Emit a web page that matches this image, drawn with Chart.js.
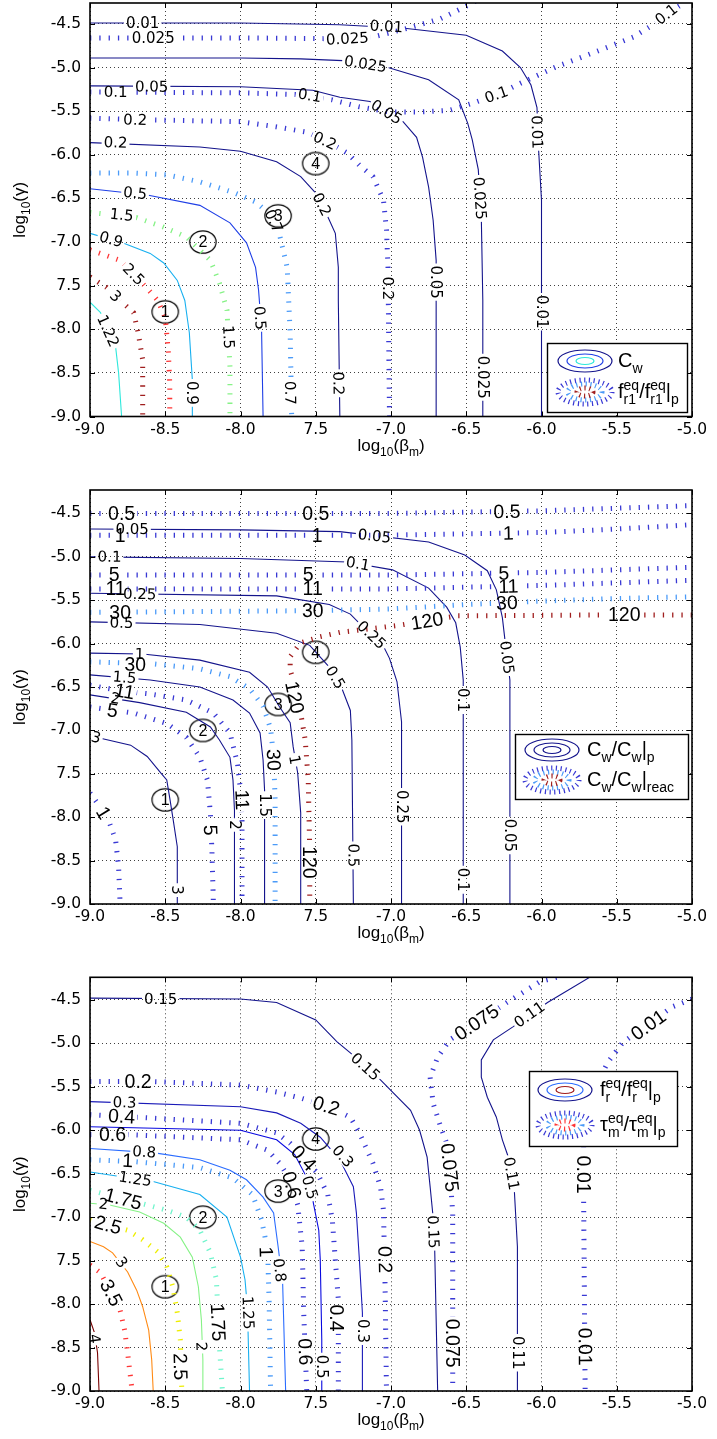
<!DOCTYPE html>
<html>
<head>
<meta charset="utf-8">
<script src="https://cdn.jsdelivr.net/npm/chart.js@4/dist/chart.umd.min.js"></script>
<style>
  body { margin: 0; background: #fff; }
  #wrap { position: relative; width: 717px; height: 1439px; }
  canvas { position: absolute; left: 0; }
</style>
</head>
<body>
<div id="wrap">
  <canvas id="c1" width="717" height="468" style="top:0px"></canvas>
  <canvas id="c2" width="717" height="488" style="top:468px"></canvas>
  <canvas id="c3" width="717" height="483" style="top:956px"></canvas>
</div>
<script>
// ---- axes (shared by the three panels)
const xTickVals = [-9, -8.5, -8, -7.5, -7, -6.5, -6, -5.5, -5];
const xTickText = ['-9.0', '-8.5', '-8.0', '7.5', '-7.0', '-6.5', '-6.0', '-5.5', '-5.0'];
const yTickVals = [-4.5, -5, -5.5, -6, -6.5, -7, -7.5, -8, -8.5, -9];
const yTickText = ['-4.5', '-5.0', '-5.5', '-6.0', '-6.5', '-7.0', '7.5', '-8.0', '-8.5', '-9.0'];
const yTops = [-4.26, -4.23, -4.24];

// circled points 1..4 (same place in every panel)
const markX = [-8.5, -8.25, -7.75, -7.5];
const markY = [-7.8, -7.0, -6.7, -6.1];
const markText = ['1', '2', '3', '4'];

// ---- panel 1 : C_w (solid) and f_r1/f_r1|p (dotted)
const p1Cw001 = [[-9,-4.49],[-8,-4.49],[-7.34,-4.51],[-6.91,-4.55],[-6.5,-4.63],[-6.26,-4.81],[-6.14,-5.0],[-6.07,-5.2],[-6.03,-5.46],[-6.02,-5.92],[-6.0,-6.52],[-6.0,-9.0]];
const p1Cw001Lab = [[-8.65,-4.49],[-7.03,-4.53],[-6.03,-5.74],[-6.0,-7.8]];
const p1Cw0025 = [[-9,-4.89],[-8,-4.89],[-7.6,-4.9],[-7.32,-4.92],[-7.02,-5.0],[-6.75,-5.14],[-6.55,-5.37],[-6.49,-5.64],[-6.46,-5.83],[-6.42,-6.17],[-6.4,-6.71],[-6.39,-7.67],[-6.39,-9.0]];
const p1Cw0025Lab = [[-7.17,-4.96],[-6.41,-6.5],[-6.39,-8.55]];
const p1Cw005 = [[-9,-5.21],[-8,-5.22],[-7.52,-5.26],[-7.34,-5.34],[-7.14,-5.39],[-6.92,-5.62],[-6.83,-5.8],[-6.79,-6.03],[-6.75,-6.37],[-6.72,-6.75],[-6.7,-7.21],[-6.7,-9.0]];
const p1Cw005Lab = [[-8.59,-5.22],[-7.03,-5.51],[-6.7,-7.46]];
const p1Cw02 = [[-9,-5.86],[-8.27,-5.91],[-8,-5.96],[-7.76,-6.08],[-7.6,-6.25],[-7.5,-6.44],[-7.42,-6.71],[-7.37,-6.9],[-7.35,-7.29],[-7.35,-7.67],[-7.34,-9.0]];
const p1Cw02Lab = [[-8.83,-5.86],[-7.46,-6.57],[-7.35,-8.62]];
const p1Cw05 = [[-9,-6.39],[-8.62,-6.46],[-8.27,-6.58],[-8.07,-6.78],[-7.96,-7.01],[-7.9,-7.29],[-7.88,-7.55],[-7.86,-8.01],[-7.85,-9.0]];
const p1Cw05Lab = [[-8.7,-6.44],[-7.87,-7.87]];
const p1Cw09 = [[-9,-6.9],[-8.78,-7.01],[-8.6,-7.13],[-8.51,-7.24],[-8.42,-7.44],[-8.37,-7.67],[-8.34,-8.04],[-8.32,-8.58],[-8.32,-9.0]];
const p1Cw09Lab = [[-8.86,-6.97],[-8.32,-8.73]];
const p1Cw122 = [[-9,-7.69],[-8.93,-7.81],[-8.88,-8.01],[-8.83,-8.2],[-8.81,-8.5],[-8.79,-9.0]];
const p1Cw122Lab = [[-8.88,-8.02]];

const p1Fr0025 = [[-9,-4.66],[-8,-4.66],[-7.34,-4.67],[-7.12,-4.65],[-6.89,-4.55],[-6.67,-4.44],[-6.48,-4.28],[-6.44,-4.24]];
const p1Fr0025Lab = [[-8.58,-4.66],[-7.29,-4.67]];
const p1Fr01 = [[-9,-5.28],[-8,-5.29],[-7.6,-5.31],[-7.39,-5.37],[-7.21,-5.45],[-7.01,-5.51],[-6.81,-5.51],[-6.61,-5.49],[-6.46,-5.41],[-6.28,-5.3],[-6.14,-5.18],[-5.9,-4.99],[-5.61,-4.8],[-5.39,-4.65],[-5.26,-4.51],[-5.15,-4.36],[-5.05,-4.26]];
const p1Fr01Lab = [[-8.83,-5.28],[-7.54,-5.32],[-6.3,-5.31],[-5.17,-4.39]];
const p1Fr02 = [[-9,-5.58],[-8.6,-5.6],[-8,-5.62],[-7.76,-5.68],[-7.56,-5.74],[-7.41,-5.86],[-7.29,-5.98],[-7.21,-6.12],[-7.12,-6.25],[-7.05,-6.52],[-7.03,-6.86],[-7.02,-7.29],[-7.01,-9.0]];
const p1Fr02Lab = [[-8.7,-5.6],[-7.44,-5.84],[-7.02,-7.53]];
const p1Fr07 = [[-9,-6.21],[-8.71,-6.21],[-8.49,-6.23],[-8.27,-6.31],[-8.05,-6.43],[-7.9,-6.54],[-7.8,-6.69],[-7.74,-6.92],[-7.69,-7.29],[-7.67,-8.04],[-7.66,-9.0]];
const p1Fr07Lab = [[-7.78,-6.76],[-7.67,-8.73]];
const p1Fr15 = [[-9,-6.66],[-8.69,-6.72],[-8.51,-6.83],[-8.36,-6.94],[-8.2,-7.21],[-8.14,-7.47],[-8.09,-7.78],[-8.07,-8.43],[-8.07,-9.0]];
const p1Fr15Lab = [[-8.79,-6.69],[-8.08,-8.09]];
const p1Fr25 = [[-9,-7.09],[-8.8,-7.21],[-8.62,-7.53],[-8.55,-7.67],[-8.5,-7.87],[-8.48,-8.24],[-8.47,-8.62],[-8.47,-9.0]];
const p1Fr25Lab = [[-8.71,-7.37]];
const p1Fr3 = [[-9,-7.4],[-8.89,-7.52],[-8.78,-7.7],[-8.71,-7.81],[-8.68,-8.04],[-8.65,-8.35],[-8.65,-9.0]];
const p1Fr3Lab = [[-8.83,-7.62]];

// ---- panel 2 : C_w/C_w|p (solid) and C_w/C_w|reac (dotted)
const p2Cw005 = [[-9,-4.68],[-8,-4.69],[-7.34,-4.71],[-6.75,-4.83],[-6.51,-4.98],[-6.36,-5.16],[-6.3,-5.38],[-6.26,-5.7],[-6.24,-6.0],[-6.21,-6.42],[-6.21,-9.0]];
const p2Cw005Lab = [[-8.72,-4.68],[-7.11,-4.76],[-6.23,-6.16],[-6.21,-8.21]];
const p2Cw01 = [[-9,-5.0],[-8,-5.02],[-7.29,-5.06],[-6.99,-5.15],[-6.75,-5.36],[-6.63,-5.58],[-6.57,-5.76],[-6.54,-6.04],[-6.52,-6.42],[-6.52,-9.0]];
const p2Cw01Lab = [[-8.87,-5.0],[-7.22,-5.08],[-6.52,-6.65],[-6.52,-8.72]];
const p2Cw025 = [[-9,-5.42],[-7.76,-5.45],[-7.41,-5.55],[-7.27,-5.66],[-7.19,-5.8],[-7.05,-6.03],[-7.01,-6.17],[-6.96,-6.44],[-6.93,-6.9],[-6.93,-9.0]];
const p2Cw025Lab = [[-8.67,-5.43],[-7.13,-5.9],[-6.93,-7.88]];
const p2Cw05 = [[-9,-5.75],[-8.27,-5.78],[-7.76,-5.88],[-7.54,-6.02],[-7.41,-6.27],[-7.33,-6.5],[-7.27,-6.77],[-7.26,-7.11],[-7.25,-9.0]];
const p2Cw05Lab = [[-8.79,-5.76],[-7.37,-6.39],[-7.25,-8.44]];
const p2Cw1 = [[-9,-6.11],[-8.65,-6.12],[-8.27,-6.19],[-7.94,-6.33],[-7.82,-6.5],[-7.74,-6.73],[-7.67,-6.91],[-7.65,-7.19],[-7.62,-7.49],[-7.6,-7.95],[-7.6,-9.0]];
const p2Cw1Lab = [[-8.67,-6.12],[-7.64,-7.34]];
const p2Cw15 = [[-9,-6.36],[-8.6,-6.42],[-8.27,-6.5],[-8.05,-6.65],[-7.94,-6.8],[-7.87,-7.03],[-7.85,-7.34],[-7.84,-7.69],[-7.84,-9.0]];
const p2Cw15Lab = [[-8.77,-6.39],[-7.84,-7.86]];
const p2Cw2 = [[-9,-6.59],[-8.67,-6.68],[-8.36,-6.79],[-8.2,-6.96],[-8.14,-7.11],[-8.07,-7.31],[-8.05,-7.57],[-8.04,-7.92],[-8.04,-9.0]];
const p2Cw2Lab = [[-8.83,-6.63],[-8.04,-8.09]];
const p2Cw3 = [[-9,-7.06],[-8.93,-7.09],[-8.73,-7.17],[-8.62,-7.3],[-8.53,-7.49],[-8.49,-7.57],[-8.47,-7.78],[-8.45,-8.0],[-8.42,-8.34],[-8.42,-9.0]];
const p2Cw3Lab = [[-8.96,-7.08],[-8.42,-8.84]];

const p2Cr05 = [[-9,-4.5],[-7,-4.5],[-6,-4.47],[-5.5,-4.44],[-5,-4.41]];
const p2Cr05Lab = [[-8.79,-4.5],[-7.5,-4.5],[-6.23,-4.48]];
const p2Cr1 = [[-9,-4.75],[-7,-4.75],[-6,-4.72],[-5.5,-4.68],[-5,-4.63]];
const p2Cr1Lab = [[-8.8,-4.75],[-7.49,-4.75],[-6.22,-4.73]];
const p2Cr5 = [[-9,-5.21],[-7,-5.21],[-6,-5.18],[-5.5,-5.15],[-5,-5.12]];
const p2Cr5Lab = [[-8.84,-5.21],[-7.55,-5.21],[-6.25,-5.19]];
const p2Cr11 = [[-9,-5.37],[-7,-5.37],[-6,-5.33],[-5.5,-5.3],[-5,-5.27]];
const p2Cr11Lab = [[-8.83,-5.37],[-7.52,-5.37],[-6.22,-5.34]];
const p2Cr30 = [[-9,-5.64],[-7.5,-5.62],[-7,-5.6],[-6.5,-5.55],[-6,-5.51],[-5.5,-5.48],[-5,-5.46]];
const p2Cr30Lab = [[-8.8,-5.64],[-7.52,-5.62],[-6.23,-5.53]];
const p2Cr120 = [[-5.0,-5.67],[-5.61,-5.67],[-6.56,-5.68],[-6.74,-5.73],[-6.95,-5.79],[-7.34,-5.87],[-7.47,-5.92],[-7.6,-5.99],[-7.67,-6.15],[-7.67,-6.3],[-7.63,-6.55],[-7.6,-6.8],[-7.57,-7.11],[-7.55,-7.57],[-7.54,-8.38],[-7.54,-9.0]];
const p2Cr120Lab = [[-5.45,-5.67],[-6.76,-5.74],[-7.64,-6.62],[-7.54,-8.52]];
const p2Cr30b = [[-9,-6.21],[-8.6,-6.23],[-8.27,-6.29],[-8.07,-6.38],[-7.94,-6.52],[-7.85,-6.72],[-7.8,-6.98],[-7.78,-7.3],[-7.77,-7.8],[-7.77,-9.0]];
const p2Cr30bLab = [[-8.7,-6.24],[-7.78,-7.34]];
const p2Cr11b = [[-9,-6.48],[-8.77,-6.55],[-8.6,-6.58],[-8.36,-6.65],[-8.18,-6.8],[-8.07,-7.03],[-8.02,-7.38],[-8.0,-7.69],[-7.99,-8.04],[-7.99,-9.0]];
const p2Cr11bLab = [[-8.77,-6.55],[-7.99,-7.8]];
const p2Cr5b = [[-9,-6.73],[-8.71,-6.8],[-8.49,-6.92],[-8.36,-7.08],[-8.27,-7.31],[-8.22,-7.57],[-8.2,-7.96],[-8.19,-8.38],[-8.18,-9.0]];
const p2Cr5bLab = [[-8.85,-6.77],[-8.2,-8.15]];
const p2Cr1b = [[-9,-7.72],[-8.95,-7.84],[-8.87,-8.07],[-8.83,-8.26],[-8.81,-8.57],[-8.8,-9.0]];
const p2Cr1bLab = [[-8.91,-7.95]];

// ---- panel 3 : f_r/f_r|p (solid) and tau_m/tau_m|p (dotted)
const p3Fr015 = [[-9,-4.48],[-8,-4.49],[-7.76,-4.53],[-7.5,-4.73],[-7.36,-4.98],[-7.27,-5.11],[-7.07,-5.42],[-6.87,-5.77],[-6.81,-6.0],[-6.76,-6.31],[-6.74,-6.65],[-6.72,-7.0],[-6.71,-7.34],[-6.69,-9.0]];
const p3Fr015Lab = [[-8.53,-4.49],[-7.17,-5.27],[-6.72,-7.17]];
const p3Fr011 = [[-5.68,-4.24],[-5.96,-4.53],[-6.19,-4.81],[-6.32,-4.96],[-6.4,-5.19],[-6.4,-5.39],[-6.36,-5.62],[-6.3,-5.85],[-6.26,-6.11],[-6.22,-6.31],[-6.18,-6.71],[-6.16,-7.34],[-6.16,-9.0]];
const p3Fr011Lab = [[-6.08,-4.67],[-6.2,-6.5],[-6.16,-8.56]];
const p3Fr03 = [[-9,-5.67],[-8,-5.73],[-7.76,-5.8],[-7.6,-5.92],[-7.47,-6.08],[-7.34,-6.34],[-7.25,-6.65],[-7.23,-6.95],[-7.21,-7.49],[-7.19,-8.1],[-7.19,-9.0]];
const p3Fr03Lab = [[-8.77,-5.68],[-7.32,-6.3],[-7.19,-8.31]];
const p3Fr05 = [[-9,-5.96],[-8,-6.0],[-7.76,-6.11],[-7.64,-6.28],[-7.57,-6.51],[-7.52,-6.8],[-7.48,-7.15],[-7.47,-7.49],[-7.46,-8.41],[-7.46,-9.0]];
const p3Fr05Lab = [[-7.54,-6.66],[-7.46,-8.72]];
const p3Fr08 = [[-9,-6.21],[-8.57,-6.26],[-8.27,-6.34],[-8.07,-6.46],[-7.96,-6.57],[-7.85,-6.77],[-7.78,-6.95],[-7.75,-7.34],[-7.72,-7.76],[-7.7,-9.0]];
const p3Fr08Lab = [[-8.64,-6.25],[-7.74,-7.61]];
const p3Fr125 = [[-9,-6.48],[-8.58,-6.59],[-8.27,-6.74],[-8.09,-7.0],[-8.0,-7.46],[-7.97,-7.72],[-7.96,-7.92],[-7.95,-8.3],[-7.94,-9.0]];
const p3Fr125Lab = [[-8.7,-6.56],[-7.95,-8.1]];
const p3Fr2 = [[-9,-6.84],[-8.87,-6.86],[-8.67,-6.94],[-8.51,-7.07],[-8.4,-7.23],[-8.32,-7.46],[-8.28,-7.8],[-8.26,-8.18],[-8.25,-8.64],[-8.25,-9.0]];
const p3Fr2Lab = [[-8.91,-6.85],[-8.26,-8.49]];
const p3Fr3 = [[-9,-7.28],[-8.91,-7.34],[-8.85,-7.41],[-8.75,-7.63],[-8.69,-7.84],[-8.65,-8.03],[-8.61,-8.3],[-8.59,-8.64],[-8.58,-9.0]];
const p3Fr3Lab = [[-8.79,-7.52]];
const p3Fr4 = [[-9,-8.18],[-8.97,-8.33],[-8.95,-8.56],[-8.94,-9.0]];
const p3Fr4Lab = [[-8.97,-8.4]];

const p3Tm001 = [[-5.0,-4.49],[-5.13,-4.58],[-5.46,-4.99],[-5.56,-5.22],[-5.63,-5.46],[-5.7,-5.77],[-5.72,-6.08],[-5.72,-6.8],[-5.71,-9.0]];
const p3Tm001Lab = [[-5.29,-4.79],[-5.72,-6.51],[-5.71,-8.49]];
const p3Tm0075 = [[-5.9,-4.24],[-6.01,-4.29],[-6.23,-4.53],[-6.43,-4.76],[-6.61,-4.96],[-6.69,-5.16],[-6.74,-5.39],[-6.72,-5.69],[-6.67,-5.96],[-6.63,-6.15],[-6.61,-6.46],[-6.59,-6.95],[-6.59,-9.0]];
const p3Tm0075Lab = [[-6.43,-4.76],[-6.61,-6.43],[-6.59,-8.45]];
const p3Tm02 = [[-9,-5.44],[-8.58,-5.44],[-8,-5.48],[-7.76,-5.56],[-7.6,-5.63],[-7.41,-5.73],[-7.27,-5.85],[-7.21,-6.03],[-7.12,-6.38],[-7.07,-6.65],[-7.05,-6.92],[-7.04,-7.72],[-7.03,-9.0]];
const p3Tm02Lab = [[-8.68,-5.44],[-7.43,-5.72],[-7.04,-7.49]];
const p3Tm04 = [[-9,-5.82],[-8.69,-5.85],[-8,-5.92],[-7.76,-6.03],[-7.67,-6.15],[-7.49,-6.49],[-7.42,-6.74],[-7.39,-7.03],[-7.37,-7.49],[-7.35,-7.95],[-7.35,-9.0]];
const p3Tm04Lab = [[-8.79,-5.84],[-7.58,-6.32],[-7.36,-8.16]];
const p3Tm06 = [[-9,-6.05],[-8.75,-6.05],[-8,-6.11],[-7.82,-6.23],[-7.74,-6.38],[-7.67,-6.57],[-7.62,-6.86],[-7.59,-7.34],[-7.58,-8.1],[-7.56,-9.0]];
const p3Tm06Lab = [[-8.85,-6.05],[-7.66,-6.63],[-7.57,-8.55]];
const p3Tm1 = [[-9,-6.34],[-8.71,-6.36],[-8.27,-6.43],[-8.05,-6.55],[-7.92,-6.74],[-7.86,-7.03],[-7.82,-7.38],[-7.81,-7.95],[-7.8,-9.0]];
const p3Tm1Lab = [[-8.75,-6.35],[-7.83,-7.4]];
const p3Tm175 = [[-9,-6.69],[-8.62,-6.86],[-8.49,-6.92],[-8.36,-7.0],[-8.27,-7.15],[-8.2,-7.41],[-8.16,-7.72],[-8.14,-8.49],[-8.12,-9.0]];
const p3Tm175Lab = [[-8.78,-6.79],[-8.15,-8.21]];
const p3Tm25 = [[-9,-7.03],[-8.75,-7.15],[-8.65,-7.26],[-8.55,-7.4],[-8.49,-7.57],[-8.45,-7.8],[-8.42,-8.1],[-8.4,-8.41],[-8.39,-9.0]];
const p3Tm25Lab = [[-8.88,-7.09],[-8.4,-8.72]];
const p3Tm35 = [[-9,-7.55],[-8.93,-7.64],[-8.8,-8.07],[-8.77,-8.3],[-8.75,-8.56],[-8.72,-9.0]];
const p3Tm35Lab = [[-8.86,-7.87]];

// ---- colours
const NAVY = '#14148c', BLUE = '#3838d4', MBLUE = '#1f3fe6', SKY = '#18b0f0', AQUA = '#2ee8dc';
const LBLUE = '#4a9af8', GREEN = '#86f286', RED = '#ff3434', DRED = '#a01e1e', ORANGE = '#ff8a14';
const YELLOW = '#eeee00', AQUAM = '#70f5cc', MAROON = '#780000', PBLUE = '#0808e0', CBLUE = '#2a6cff';

const SMALL = 15, BIG = 19.5;
const SMALL_FONT = SMALL + 'px "DejaVu Sans"';
const BIG_FONT = BIG + 'px "Liberation Sans"';

function C(pts, lab, level, color, dotted, big) {
  return { pts, lab, level, color, dotted, big };
}

const panel1 = [
  C(p1Fr0025, p1Fr0025Lab, '0.025', BLUE, true, false),
  C(p1Fr01, p1Fr01Lab, '0.1', BLUE, true, false),
  C(p1Fr02, p1Fr02Lab, '0.2', BLUE, true, false),
  C(p1Fr07, p1Fr07Lab, '0.7', LBLUE, true, false),
  C(p1Fr15, p1Fr15Lab, '1.5', GREEN, true, false),
  C(p1Fr25, p1Fr25Lab, '2.5', RED, true, false),
  C(p1Fr3, p1Fr3Lab, '3', DRED, true, false),
  C(p1Cw001, p1Cw001Lab, '0.01', NAVY, false),
  C(p1Cw0025, p1Cw0025Lab, '0.025', NAVY, false),
  C(p1Cw005, p1Cw005Lab, '0.05', NAVY, false),
  C(p1Cw02, p1Cw02Lab, '0.2', NAVY, false),
  C(p1Cw05, p1Cw05Lab, '0.5', MBLUE, false),
  C(p1Cw09, p1Cw09Lab, '0.9', SKY, false),
  C(p1Cw122, p1Cw122Lab, '1.22', AQUA, false)
];
const panel2 = [
  C(p2Cr05, p2Cr05Lab, '0.5', BLUE, true, true),
  C(p2Cr1, p2Cr1Lab, '1', BLUE, true, true),
  C(p2Cr5, p2Cr5Lab, '5', BLUE, true, true),
  C(p2Cr11, p2Cr11Lab, '11', BLUE, true, true),
  C(p2Cr30, p2Cr30Lab, '30', LBLUE, true, true),
  C(p2Cr120, p2Cr120Lab, '120', DRED, true, true),
  C(p2Cr30b, p2Cr30bLab, '30', LBLUE, true, true),
  C(p2Cr11b, p2Cr11bLab, '11', BLUE, true, true),
  C(p2Cr5b, p2Cr5bLab, '5', BLUE, true, true),
  C(p2Cr1b, p2Cr1bLab, '1', BLUE, true, true),
  C(p2Cw005, p2Cw005Lab, '0.05', NAVY, false),
  C(p2Cw01, p2Cw01Lab, '0.1', NAVY, false),
  C(p2Cw025, p2Cw025Lab, '0.25', NAVY, false),
  C(p2Cw05, p2Cw05Lab, '0.5', NAVY, false),
  C(p2Cw1, p2Cw1Lab, '1', NAVY, false),
  C(p2Cw15, p2Cw15Lab, '1.5', NAVY, false),
  C(p2Cw2, p2Cw2Lab, '2', NAVY, false),
  C(p2Cw3, p2Cw3Lab, '3', NAVY, false)
];
const panel3 = [
  C(p3Tm001, p3Tm001Lab, '0.01', BLUE, true, true),
  C(p3Tm0075, p3Tm0075Lab, '0.075', BLUE, true, true),
  C(p3Tm02, p3Tm02Lab, '0.2', BLUE, true, true),
  C(p3Tm04, p3Tm04Lab, '0.4', BLUE, true, true),
  C(p3Tm06, p3Tm06Lab, '0.6', BLUE, true, true),
  C(p3Tm1, p3Tm1Lab, '1', LBLUE, true, true),
  C(p3Tm175, p3Tm175Lab, '1.75', AQUAM, true, true),
  C(p3Tm25, p3Tm25Lab, '2.5', YELLOW, true, true),
  C(p3Tm35, p3Tm35Lab, '3.5', RED, true, true),
  C(p3Fr015, p3Fr015Lab, '0.15', NAVY, false),
  C(p3Fr011, p3Fr011Lab, '0.11', NAVY, false),
  C(p3Fr03, p3Fr03Lab, '0.3', '#1a1ab8', false),
  C(p3Fr05, p3Fr05Lab, '0.5', PBLUE, false),
  C(p3Fr08, p3Fr08Lab, '0.8', CBLUE, false),
  C(p3Fr125, p3Fr125Lab, '1.25', SKY, false),
  C(p3Fr2, p3Fr2Lab, '2', GREEN, false),
  C(p3Fr3, p3Fr3Lab, '3', ORANGE, false),
  C(p3Fr4, p3Fr4Lab, '4', MAROON, false)
];

// legend boxes: position is measured from the right/bottom corner of the plot area
const legends = [
  { dx: 145, dy: 73.5, w: 140, h: 69, iconX: 38, r1: 18, r2: 49, textX: 71,
    solid: [NAVY, MBLUE, AQUA], dotted: [BLUE, LBLUE, DRED],
    text: ['C_w', 'f^{eq}_{r1}/f^{eq}_{r1}|_p'] },
  { dx: 177, dy: 170, w: 173, h: 65, iconX: 37, r1: 16, r2: 46, textX: 72,
    solid: [NAVY, NAVY, NAVY], dotted: [BLUE, LBLUE, DRED],
    text: ['C_w/C_w|_p', 'C_w/C_w|_{reac}'] },
  { dx: 163, dy: 320, w: 148, h: 75, iconX: 36, r1: 19, r2: 54, textX: 71,
    solid: [NAVY, CBLUE, DRED], dotted: [BLUE, LBLUE, RED],
    text: ['f^{eq}_r/f^{eq}_r|_p', '\u03c4^{eq}_m/\u03c4^{eq}_m|_p'] }
];

// ---- small helpers
function parseRich(s) {
  const out = [];
  let buf = '', i = 0;
  while (i < s.length) {
    const ch = s[i];
    if (ch === '^' || ch === '_') {
      if (buf) { out.push({ t: buf, k: 0 }); buf = ''; }
      let t;
      if (s[i + 1] === '{') { const j = s.indexOf('}', i); t = s.slice(i + 2, j); i = j + 1; }
      else { t = s[i + 1]; i += 2; }
      out.push({ t, k: ch === '^' ? 1 : -1 });
    } else { buf += ch; i++; }
  }
  if (buf) out.push({ t: buf, k: 0 });
  return out;
}

function drawRich(ctx, s, x, y, size, center) {
  const parts = parseRich(s);
  const big = size + 'px "Liberation Sans"';
  const small = Math.round(size * 0.72) + 'px "Liberation Sans"';
  const items = [];
  for (let i = 0; i < parts.length; i++) {
    const p = parts[i];
    if (p.k === 0) {
      ctx.font = big;
      items.push({ w: ctx.measureText(p.t).width, seg: [p] });
    } else {
      const seg = [p];
      if (parts[i + 1] && parts[i + 1].k !== 0 && parts[i + 1].k !== p.k) { seg.push(parts[i + 1]); i++; }
      ctx.font = small;
      items.push({ w: Math.max(...seg.map(q => ctx.measureText(q.t).width)), seg });
    }
  }
  const total = items.reduce((a, b) => a + b.w, 0);
  let cx = center ? x - total / 2 : x;
  ctx.fillStyle = '#000';
  ctx.textAlign = 'left';
  ctx.textBaseline = 'alphabetic';
  items.forEach(it => {
    it.seg.forEach(p => {
      ctx.font = p.k === 0 ? big : small;
      const dy = p.k === 0 ? 0 : (p.k > 0 ? -size * 0.42 : size * 0.32);
      ctx.fillText(p.t, cx, y + dy);
    });
    cx += it.w;
  });
}

function segDist(px, py, ax, ay, bx, by) {
  const dx = bx - ax, dy = by - ay;
  const L = dx * dx + dy * dy || 1;
  let t = ((px - ax) * dx + (py - ay) * dy) / L;
  t = Math.max(0, Math.min(1, t));
  const qx = ax + t * dx - px, qy = ay + t * dy - py;
  return Math.sqrt(qx * qx + qy * qy);
}

// label position in pixels, turned along the nearest piece of its line
function labelGeom(chart, ds, lab) {
  const xs = chart.scales.x, ys = chart.scales.y;
  const px = xs.getPixelForValue(lab[0]), py = ys.getPixelForValue(lab[1]);
  let best = Infinity, ang = 0;
  const d = ds.data;
  for (let i = 0; i < d.length - 1; i++) {
    const ax = xs.getPixelForValue(d[i].x), ay = ys.getPixelForValue(d[i].y);
    const bx = xs.getPixelForValue(d[i + 1].x), by = ys.getPixelForValue(d[i + 1].y);
    const dist = segDist(px, py, ax, ay, bx, by);
    if (dist < best) { best = dist; ang = Math.atan2(by - ay, bx - ax); }
  }
  if (ang > Math.PI / 2 + 1e-6) ang -= Math.PI;
  else if (ang <= -Math.PI / 2 + 1e-6) ang += Math.PI;
  return { px, py, ang };
}

function ellipse(ctx, x, y, rx, ry) {
  ctx.beginPath();
  ctx.ellipse(x, y, rx, ry, 0, 0, Math.PI * 2);
  ctx.stroke();
}

// ring used as point style for the numbered markers
const ring = document.createElement('canvas');
ring.width = 30; ring.height = 26;
(function () {
  const g = ring.getContext('2d');
  g.strokeStyle = '#000'; g.lineWidth = 1.2;
  g.beginPath(); g.ellipse(15, 13, 13.2, 11.2, 0, 0, Math.PI * 2); g.stroke();
})();

const contourPlugin = {
  id: 'contourLabels',
  beforeDatasetDraw(chart, args) {
    const ds = chart.data.datasets[args.index];
    ds._clip = false;
    if (!ds.labelPos || !ds.labelPos.length) return;
    const ctx = chart.ctx;
    ctx.save();
    ctx.font = ds.labelFont;
    const hw = ctx.measureText(ds.labelText).width / 2 + 2;
    const hh = ds.labelSize * 0.42;
    ctx.beginPath();
    ctx.rect(0, 0, chart.width, chart.height);
    ds.labelPos.forEach(l => {
      const g = labelGeom(chart, ds, l);
      const c = Math.cos(g.ang), s = Math.sin(g.ang);
      const pts = [[-hw, -hh], [-hw, hh], [hw, hh], [hw, -hh]].map(([u, v]) => [g.px + u * c - v * s, g.py + u * s + v * c]);
      ctx.moveTo(pts[0][0], pts[0][1]);
      for (let k = 1; k < 4; k++) ctx.lineTo(pts[k][0], pts[k][1]);
      ctx.closePath();
    });
    ctx.clip('evenodd');
    ds._clip = true;
  },
  afterDatasetDraw(chart, args) {
    const ds = chart.data.datasets[args.index];
    if (ds._clip) { chart.ctx.restore(); ds._clip = false; }
  },
  afterDatasetsDraw(chart) {
    const ctx = chart.ctx;
    const a = chart.chartArea;
    const xs = chart.scales.x, ys = chart.scales.y;
    // contour labels
    chart.data.datasets.forEach(ds => {
      if (!ds.labelPos) return;
      ds.labelPos.forEach(l => {
        const g = labelGeom(chart, ds, l);
        ctx.save();
        ctx.translate(g.px, g.py);
        ctx.rotate(g.ang);
        ctx.font = ds.labelFont;
        ctx.fillStyle = '#000';
        ctx.textAlign = 'center';
        ctx.textBaseline = 'middle';
        ctx.fillText(ds.labelText, 0, 1);
        ctx.restore();
      });
    });
    // marker numbers
    chart.data.datasets.forEach(ds => {
      if (!ds.markText) return;
      ds.data.forEach((p, i) => {
        ctx.font = '16px "Liberation Sans"';
        ctx.fillStyle = '#000';
        ctx.textAlign = 'center';
        ctx.textBaseline = 'middle';
        ctx.fillText(ds.markText[i], xs.getPixelForValue(p.x), ys.getPixelForValue(p.y) + 1);
      });
    });
    // frame with inward ticks
    ctx.save();
    ctx.strokeStyle = '#000';
    ctx.lineWidth = 1.6;
    ctx.strokeRect(a.left, a.top, a.right - a.left, a.bottom - a.top);
    ctx.lineWidth = 1;
    ctx.beginPath();
    xTickVals.forEach(v => {
      const x = Math.round(xs.getPixelForValue(v)) + 0.5;
      ctx.moveTo(x, a.bottom); ctx.lineTo(x, a.bottom - 5);
      ctx.moveTo(x, a.top); ctx.lineTo(x, a.top + 5);
    });
    yTickVals.forEach(v => {
      const y = Math.round(ys.getPixelForValue(v)) + 0.5;
      ctx.moveTo(a.left, y); ctx.lineTo(a.left + 5, y);
      ctx.moveTo(a.right, y); ctx.lineTo(a.right - 5, y);
    });
    ctx.stroke();
    ctx.restore();
  },
  afterDraw(chart) {
    const ctx = chart.ctx;
    const a = chart.chartArea;
    const lg = chart.options.plugins.contourLabels.legend;
    // legend
    const L = a.right - lg.dx, T = a.bottom - lg.dy;
    ctx.save();
    ctx.fillStyle = '#fff';
    ctx.fillRect(L, T, lg.w, lg.h);
    ctx.strokeStyle = '#000';
    ctx.lineWidth = 1.4;
    ctx.strokeRect(L + 0.5, T + 0.5, lg.w, lg.h);
    const ix = L + lg.iconX;
    ctx.lineWidth = 1.2;
    [[27, 11], [18, 7], [9, 3.5]].forEach((r, k) => {
      ctx.strokeStyle = lg.solid[k];
      ellipse(ctx, ix, T + lg.r1, r[0], r[1]);
    });
    ctx.lineWidth = 5;
    ctx.setLineDash([1.2, 3.5]);
    [[27, 12], [17, 8], [8, 4]].forEach((r, k) => {
      ctx.strokeStyle = lg.dotted[k];
      ellipse(ctx, ix, T + lg.r2, r[0], r[1]);
    });
    ctx.setLineDash([]);
    drawRich(ctx, lg.text[0], L + lg.textX, T + lg.r1 + 6, 20, false);
    drawRich(ctx, lg.text[1], L + lg.textX, T + lg.r2 + 6, 20, false);
    // axis titles
    drawRich(ctx, 'log_{10}(\u03b2_m)', (a.left + a.right) / 2, a.bottom + 34, 17, true);
    ctx.translate(25, (a.top + a.bottom) / 2);
    ctx.rotate(-Math.PI / 2);
    drawRich(ctx, 'log_{10}(\u03b3)', 0, 0, 17, true);
    ctx.restore();
  }
};

function buildChart(canvasId, contours, yMax, areaTop, areaBottom, legend) {
  const canvas = document.getElementById(canvasId);
  const H = canvas.height;
  const datasets = contours.map(c => ({
    data: c.pts.map(p => ({ x: p[0], y: p[1] })),
    showLine: true,
    borderColor: c.color,
    borderWidth: c.dotted ? 5 : 1.1,
    borderDash: c.dotted ? [1.3, 8] : [],
    borderCapStyle: 'butt',
    pointRadius: 0,
    pointHoverRadius: 0,
    tension: 0,
    fill: false,
    labelText: c.level,
    labelPos: c.lab,
    labelFont: c.big ? BIG_FONT : SMALL_FONT,
    labelSize: c.big ? BIG : SMALL
  }));
  datasets.push({
    data: markX.map((x, i) => ({ x, y: markY[i] })),
    showLine: false,
    pointStyle: ring,
    pointRadius: 12,
    markText: markText
  });
  return new Chart(canvas, {
    type: 'scatter',
    data: { datasets },
    options: {
      responsive: false,
      animation: false,
      events: [],
      layout: { autoPadding: false, padding: { left: 0, right: 717 - 692, top: areaTop, bottom: 0 } },
      plugins: {
        legend: { display: false },
        tooltip: { enabled: false },
        contourLabels: { legend }
      },
      scales: {
        x: {
          type: 'linear', min: -9, max: -5,
          afterBuildTicks: s => { s.ticks = xTickVals.map(v => ({ value: v })); },
          afterFit: s => { s.height = H - areaBottom; s.paddingLeft = 0; s.paddingRight = 0; },
          ticks: {
            autoSkip: false, maxRotation: 0, minRotation: 0, padding: 4, color: '#000',
            font: { family: 'DejaVu Sans', size: 15.5 },
            callback: v => xTickText[xTickVals.indexOf(v)]
          },
          grid: { color: 'rgba(0,0,0,0.75)', lineWidth: 1, drawTicks: false },
          border: { display: false, dash: [1, 3] }
        },
        y: {
          type: 'linear', min: -9, max: yMax,
          afterBuildTicks: s => { s.ticks = yTickVals.map(v => ({ value: v })); },
          afterFit: s => { s.width = 90; s.paddingTop = 0; s.paddingBottom = 0; },
          ticks: {
            autoSkip: false, padding: 9, color: '#000',
            font: { family: 'DejaVu Sans', size: 15.5 },
            callback: v => yTickText[yTickVals.indexOf(v)]
          },
          grid: { color: 'rgba(0,0,0,0.75)', lineWidth: 1, drawTicks: false },
          border: { display: false, dash: [1, 3] }
        }
      }
    },
    plugins: [contourPlugin]
  });
}

buildChart('c1', panel1, yTops[0], 3, 416.5, legends[0]);
buildChart('c2', panel2, yTops[1], 22, 436, legends[1]);
buildChart('c3', panel3, yTops[2], 21.3, 435, legends[2]);
</script>
</body>
</html>
